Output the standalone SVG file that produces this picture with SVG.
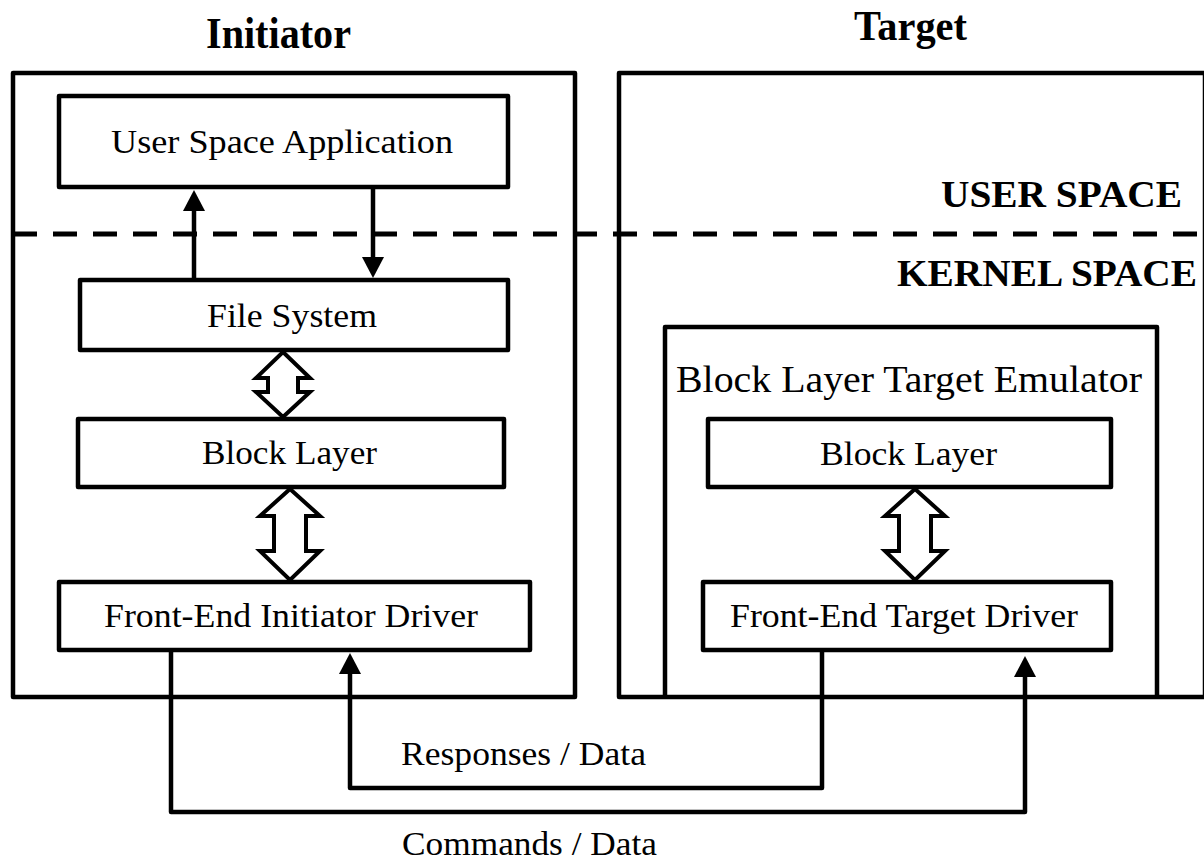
<svg xmlns="http://www.w3.org/2000/svg" width="1204" height="861" viewBox="0 0 1204 861">
<style>
.box{fill:none;stroke:#000;stroke-width:4.5;stroke-linejoin:round}
.wbox{fill:#fff;stroke:#000;stroke-width:4.5;stroke-linejoin:round}
.con{fill:none;stroke:#000;stroke-width:4.5;stroke-linejoin:round}
.dbl{fill:#fff;stroke:#000;stroke-width:4;stroke-linejoin:miter}
.t{font-family:"Liberation Serif","Times New Roman",serif;fill:#000}
.h{font-weight:bold}
</style>
<defs>
<marker id="ah" viewBox="0 0 21 22" markerWidth="21" markerHeight="22" refX="0" refY="11" orient="auto" markerUnits="userSpaceOnUse">
<path d="M0,0 L21,11 L0,22 z" fill="#000"/>
</marker>
</defs>
<rect width="1204" height="861" fill="#fff"/>

<g id="titles">
<text class="t h" x="206" y="48" font-size="45" textLength="145" lengthAdjust="spacingAndGlyphs">Initiator</text>
<text class="t h" x="854" y="40" font-size="42" textLength="113" lengthAdjust="spacingAndGlyphs">Target</text>
<text class="t h" x="941" y="207" font-size="37" textLength="241" lengthAdjust="spacingAndGlyphs">USER SPACE</text>
<text class="t h" x="897" y="286" font-size="37" textLength="300" lengthAdjust="spacingAndGlyphs">KERNEL SPACE</text>
</g>

<g id="initiator">
<rect class="box" x="13" y="73" width="562" height="624"/>
</g>
<g id="target">
<rect class="box" x="619" y="73" width="586" height="624"/>
</g>

<g id="divider">
<line x1="13" y1="234" x2="1204" y2="234" stroke="#000" stroke-width="5" stroke-dasharray="24 16"/>
</g>

<g id="user-space-application">
<rect class="wbox" x="59" y="96" width="449" height="91"/>
<text class="t" x="111" y="153" font-size="34" textLength="342" lengthAdjust="spacingAndGlyphs">User Space Application</text>
</g>
<g id="file-system">
<rect class="wbox" x="80" y="280" width="428" height="70"/>
<text class="t" x="207" y="327" font-size="33" textLength="170" lengthAdjust="spacingAndGlyphs">File System</text>
</g>
<g id="block-layer-initiator">
<rect class="wbox" x="78" y="419" width="426" height="68"/>
<text class="t" x="202" y="464" font-size="33" textLength="175" lengthAdjust="spacingAndGlyphs">Block Layer</text>
</g>
<g id="front-end-initiator-driver">
<rect class="wbox" x="59" y="582" width="471" height="68"/>
<text class="t" x="104" y="627" font-size="33" textLength="374" lengthAdjust="spacingAndGlyphs">Front-End Initiator Driver</text>
</g>

<g id="block-layer-target-emulator">
<path class="box" d="M665,697 V327 H1157 V697"/>
<text class="t" x="676" y="392" font-size="37" textLength="466" lengthAdjust="spacingAndGlyphs">Block Layer Target Emulator</text>
</g>
<g id="block-layer-target">
<rect class="wbox" x="708" y="419" width="403" height="68"/>
<text class="t" x="820" y="465" font-size="33" textLength="177" lengthAdjust="spacingAndGlyphs">Block Layer</text>
</g>
<g id="front-end-target-driver">
<rect class="wbox" x="703" y="582" width="408" height="68"/>
<text class="t" x="730" y="627" font-size="33" textLength="348" lengthAdjust="spacingAndGlyphs">Front-End Target Driver</text>
</g>

<g id="connectors">
<line class="con" x1="194" y1="278" x2="194" y2="211" marker-end="url(#ah)"/>
<line class="con" x1="373" y1="189" x2="373" y2="257" marker-end="url(#ah)"/>
<path class="con" d="M171,652 V812 H1025 V677" marker-end="url(#ah)"/>
<path class="con" d="M822,652 V788 H350 V674" marker-end="url(#ah)"/>
<polygon class="dbl" points="283,352 310,378 298,378 298,392 310,392 283,417 256,392 268,392 268,378 256,378"/>
<polygon class="dbl" points="290,489 320,516 306,516 306,551 320,551 290,580 260,551 274,551 274,516 260,516"/>
<polygon class="dbl" points="915,489 945,516 931,516 931,551 945,551 915,580 885,551 899,551 899,516 885,516"/>
<text class="t" x="401" y="765" font-size="34" textLength="245" lengthAdjust="spacingAndGlyphs">Responses / Data</text>
<text class="t" x="402" y="855" font-size="34" textLength="255" lengthAdjust="spacingAndGlyphs">Commands / Data</text>
</g>
</svg>
